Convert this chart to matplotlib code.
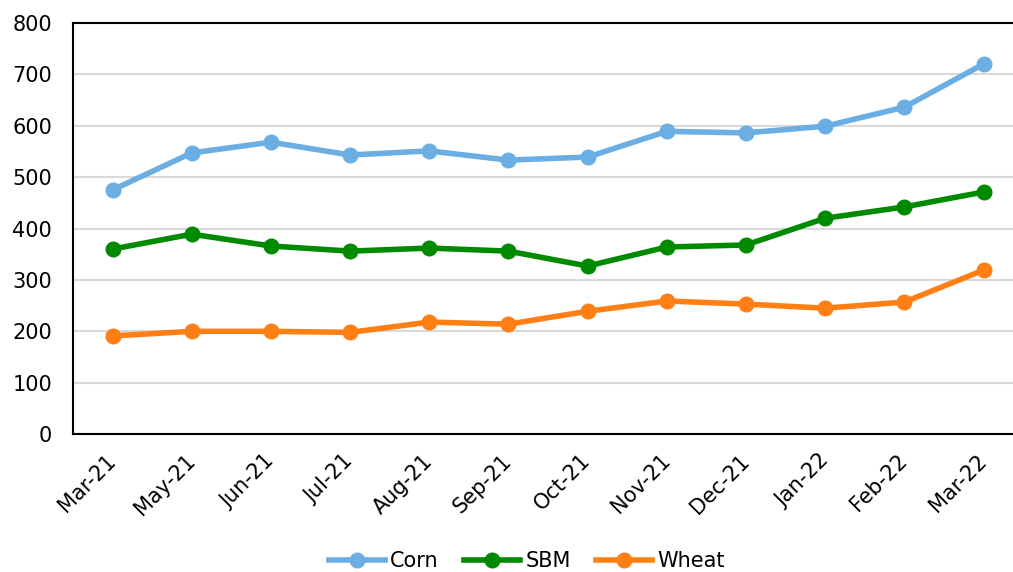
import matplotlib.pyplot as plt
import numpy as np

months = ["Mar-21", "May-21", "Jun-21", "Jul-21", "Aug-21", "Sep-21", "Oct-21",
          "Nov-21", "Dec-21", "Jan-22", "Feb-22", "Mar-22"]
corn = [475, 547, 568, 543, 551, 533, 539, 589, 586, 599, 636, 720]
sbm = [360, 389, 366, 356, 362, 356, 327, 364, 368, 420, 442, 471]
wheat = [191, 200, 200, 198, 218, 214, 239, 259, 253, 245, 257, 319]

plt.rcParams['font.family'] = ['DejaVu Sans']

fig = plt.figure(figsize=(10.13, 5.72), dpi=100)
ax = fig.add_axes([0.072, 0.241, 0.938, 0.719])

x = np.arange(len(months))
ax.plot(x, corn, color="#6AAEE3", lw=4, marker="o", ms=10.5, label="Corn")
ax.plot(x, sbm, color="#008A00", lw=4, marker="o", ms=10.5, label="SBM")
ax.plot(x, wheat, color="#FF7F14", lw=4, marker="o", ms=10.5, label="Wheat")

ax.set_xlim(-0.5, 11.5)
ax.set_ylim(0, 800)
ax.set_yticks(range(0, 801, 100))
ax.yaxis.grid(True, color="#D9D9D9", lw=1.5)
ax.set_axisbelow(True)
ax.set_xticks(x)
ax.set_xticklabels(months, rotation=45, ha="right", va="center",
                   rotation_mode="anchor")
ax.tick_params(length=0, labelsize=15)
ax.tick_params(axis="x", pad=17)
ax.tick_params(axis="y", pad=15)
for s in ["left", "bottom", "top"]:
    ax.spines[s].set_color("black")
    ax.spines[s].set_linewidth(1.5)
ax.spines["right"].set_visible(False)

fig.legend(loc="center", ncol=3, frameon=False, fontsize=15,
           bbox_to_anchor=(0.52, 0.019), handlelength=2.7, columnspacing=1.2,
           handletextpad=0.25)

fig.savefig("out.png", dpi=100)
